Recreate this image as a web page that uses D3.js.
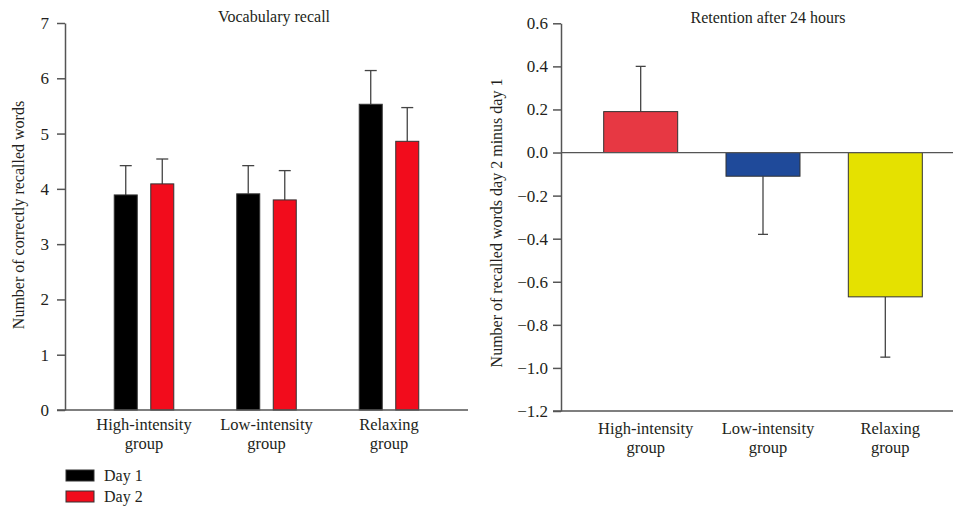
<!DOCTYPE html>
<html>
<head>
<meta charset="utf-8">
<script src="https://cdn.jsdelivr.net/npm/d3@7"></script>
<style>
  body { margin: 0; background: #fff; }
  svg text { font-family: "Liberation Serif", "DejaVu Serif", serif; fill: #231f20; }
</style>
</head>
<body>
<div id="chart"></div>
<script>
const width = 953;
const height = 506;

// left panel data
const groups = ["High-intensity group", "Low-intensity group", "Relaxing group"];
const days = ["Day 1", "Day 2"];
const day1Means = [3.89, 3.91, 5.53];
const day1Errors = [0.53, 0.51, 0.61];
const day2Means = [4.09, 3.80, 4.86];
const day2Errors = [0.45, 0.53, 0.61];
const dayColors = ["#000000", "#f20c1c"];
const leftTicks = [0, 1, 2, 3, 4, 5, 6, 7];

// right panel data
const retention = [0.19, -0.11, -0.67];
const retentionErrors = [0.21, 0.27, 0.28];
const retentionColors = ["#e73843", "#1f4a9a", "#e5e100"];
const rightTicks = [0.6, 0.4, 0.2, 0.0, -0.2, -0.4, -0.6, -0.8, -1.0, -1.2];

const svg = d3.select("#chart").append("svg")
    .attr("width", width)
    .attr("height", height);

const axisColor = "#555";
const errColor = "#444";

function wrapLabel(sel, lineHeight) {
    sel.each(function () {
        const t = d3.select(this);
        const words = t.text().split(" ");
        const last = words.pop();
        t.text(null);
        t.append("tspan").attr("x", 0).attr("dy", 0).text(words.join(" "));
        t.append("tspan").attr("x", 0).attr("dy", lineHeight).text(last);
    });
}

function styleAxis(g) {
    g.attr("font-family", null).attr("font-size", null);
    g.select(".domain").attr("stroke", axisColor).attr("stroke-width", 1.5);
    g.selectAll(".tick line").attr("stroke", axisColor).attr("stroke-width", 1.5);
    g.selectAll(".tick text")
        .attr("fill", "#231f20")
        .style("font-family", "'Liberation Serif', serif")
        .style("font-size", "17px");
}

/* ---------- Vocabulary recall ---------- */
const y1 = d3.scaleLinear().domain([0, 7]).range([410, 23]);
const x0 = d3.scaleBand().domain(groups).range([65, 468])
    .paddingInner(0.514).paddingOuter(0.402);
const x1 = d3.scaleBand().domain(days).range([0, x0.bandwidth()])
    .paddingInner(0.37).paddingOuter(0);

const left = svg.append("g");

const leftRows = [];
groups.forEach((g, i) => {
    leftRows.push({ group: g, day: days[0], mean: day1Means[i], err: day1Errors[i] });
    leftRows.push({ group: g, day: days[1], mean: day2Means[i], err: day2Errors[i] });
});

// error bars (drawn first, bar covers the stem base)
const leftErr = left.selectAll(".err").data(leftRows).enter().append("g").attr("class", "err");
leftErr.append("line")
    .attr("x1", d => x0(d.group) + x1(d.day) + x1.bandwidth() / 2)
    .attr("x2", d => x0(d.group) + x1(d.day) + x1.bandwidth() / 2)
    .attr("y1", d => y1(d.mean))
    .attr("y2", d => y1(d.mean + d.err))
    .attr("stroke", errColor).attr("stroke-width", 1.3);
leftErr.append("line")
    .attr("x1", d => x0(d.group) + x1(d.day) + x1.bandwidth() / 2 - 6)
    .attr("x2", d => x0(d.group) + x1(d.day) + x1.bandwidth() / 2 + 6)
    .attr("y1", d => y1(d.mean + d.err))
    .attr("y2", d => y1(d.mean + d.err))
    .attr("stroke", errColor).attr("stroke-width", 1.3);

left.selectAll(".bar").data(leftRows).enter().append("rect")
    .attr("class", "bar")
    .attr("x", d => x0(d.group) + x1(d.day))
    .attr("y", d => y1(d.mean))
    .attr("width", x1.bandwidth())
    .attr("height", d => y1(0) - y1(d.mean))
    .attr("fill", d => dayColors[days.indexOf(d.day)])
    .attr("stroke", "#333").attr("stroke-width", 1);

left.append("g")
    .attr("transform", "translate(65,0)")
    .call(d3.axisLeft(y1).tickValues(leftTicks).tickFormat(d3.format("d"))
        .tickSize(8).tickPadding(8).tickSizeOuter(0))
    .call(styleAxis);

left.append("line")
    .attr("x1", 57).attr("x2", 468)
    .attr("y1", y1(0)).attr("y2", y1(0))
    .attr("stroke", axisColor).attr("stroke-width", 1.5);

left.selectAll(".xlab").data(groups).enter().append("text")
    .attr("class", "xlab")
    .attr("transform", d => `translate(${x0(d) + x0.bandwidth() / 2},430)`)
    .attr("text-anchor", "middle")
    .style("font-size", "16.5px")
    .text(d => d)
    .call(wrapLabel, 19);

left.append("text")
    .attr("x", 274).attr("y", 22)
    .attr("text-anchor", "middle")
    .style("font-size", "16px")
    .text("Vocabulary recall");

left.append("text")
    .attr("transform", "translate(24,215) rotate(-90)")
    .attr("text-anchor", "middle")
    .style("font-size", "16px")
    .text("Number of correctly recalled words");

// legend
const legend = left.selectAll(".leg").data(days).enter().append("g")
    .attr("class", "leg")
    .attr("transform", (d, i) => `translate(66,${470 + i * 21})`);
legend.append("rect")
    .attr("width", 28).attr("height", 11)
    .attr("fill", (d, i) => dayColors[i])
    .attr("stroke", "#333").attr("stroke-width", 1);
legend.append("text")
    .attr("x", 38).attr("y", 11)
    .style("font-size", "16px")
    .text(d => d);

/* ---------- Retention after 24 hours ---------- */
const y2 = d3.scaleLinear().domain([-1.2, 0.6]).range([411, 23.3]);
const x2 = d3.scaleBand().domain(groups).range([561, 965])
    .paddingInner(0.395).paddingOuter(0.349);

const right = svg.append("g");

const rightRows = groups.map((g, i) => ({ group: g, value: retention[i], err: retentionErrors[i], color: retentionColors[i] }));

const rightErr = right.selectAll(".err").data(rightRows).enter().append("g").attr("class", "err");
const errEnd = d => d.value >= 0 ? d.value + d.err : d.value - d.err;
rightErr.append("line")
    .attr("x1", d => x2(d.group) + x2.bandwidth() / 2)
    .attr("x2", d => x2(d.group) + x2.bandwidth() / 2)
    .attr("y1", d => y2(d.value))
    .attr("y2", d => y2(errEnd(d)))
    .attr("stroke", errColor).attr("stroke-width", 1.3);
rightErr.append("line")
    .attr("x1", d => x2(d.group) + x2.bandwidth() / 2 - 5)
    .attr("x2", d => x2(d.group) + x2.bandwidth() / 2 + 5)
    .attr("y1", d => y2(errEnd(d)))
    .attr("y2", d => y2(errEnd(d)))
    .attr("stroke", errColor).attr("stroke-width", 1.3);

right.selectAll(".bar").data(rightRows).enter().append("rect")
    .attr("class", "bar")
    .attr("x", d => x2(d.group))
    .attr("y", d => y2(Math.max(0, d.value)))
    .attr("width", x2.bandwidth())
    .attr("height", d => Math.abs(y2(d.value) - y2(0)))
    .attr("fill", d => d.color)
    .attr("stroke", "#333").attr("stroke-width", 1);

right.append("g")
    .attr("transform", "translate(561,0)")
    .call(d3.axisLeft(y2).tickValues(rightTicks).tickFormat(d3.format(".1f"))
        .tickSize(8).tickPadding(5).tickSizeOuter(0))
    .call(styleAxis);

// zero line and bottom line
right.append("line")
    .attr("x1", 561).attr("x2", 965)
    .attr("y1", y2(0)).attr("y2", y2(0))
    .attr("stroke", axisColor).attr("stroke-width", 1.3);
right.append("line")
    .attr("x1", 553).attr("x2", 965)
    .attr("y1", y2(-1.2)).attr("y2", y2(-1.2))
    .attr("stroke", axisColor).attr("stroke-width", 1.5);

right.selectAll(".xlab").data(groups).enter().append("text")
    .attr("class", "xlab")
    .attr("transform", d => `translate(${x2(d) + x2.bandwidth() / 2 + 5},434)`)
    .attr("text-anchor", "middle")
    .style("font-size", "16.5px")
    .text(d => d)
    .call(wrapLabel, 19);

right.append("text")
    .attr("x", 768).attr("y", 23)
    .attr("text-anchor", "middle")
    .style("font-size", "16px")
    .text("Retention after 24 hours");

right.append("text")
    .attr("transform", "translate(502,223) rotate(-90)")
    .attr("text-anchor", "middle")
    .style("font-size", "16px")
    .text("Number of recalled words day 2 minus day 1");
</script>
</body>
</html>
